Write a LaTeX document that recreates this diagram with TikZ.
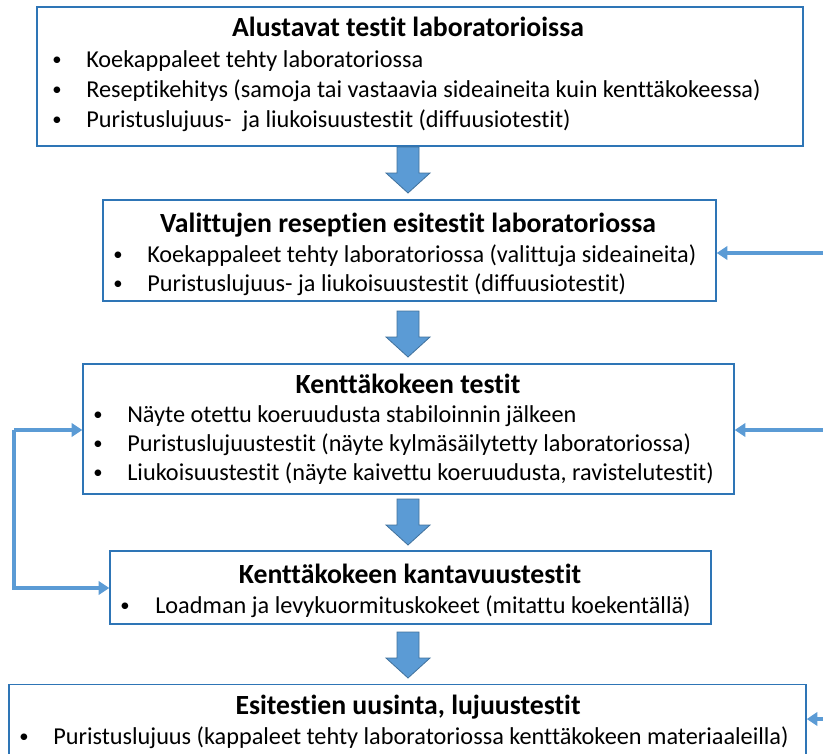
\documentclass[tikz,border=0pt]{standalone}
\usepackage{fontspec}
\setmainfont[Ligatures=NoCommon]{Carlito}
\usetikzlibrary{arrows.meta}
\definecolor{boxblue}{HTML}{2E75B6}
\definecolor{arrfill}{HTML}{5B9BD5}
\definecolor{arrline}{HTML}{41719C}
\tikzset{
  box/.style={draw=boxblue, line width=1.1pt, fill=white, inner sep=0pt},
  ttl/.style={font=\fontsize{20.8}{24}\selectfont\bfseries, anchor=base},
  itm/.style={font=\fontsize{18.2}{22}\selectfont, anchor=base west, inner sep=0pt},
  bul/.style={font=\fontsize{14}{16}\selectfont, anchor=base, inner sep=0pt},
  conn/.style={draw=arrfill, line width=2.8pt, -{Triangle[length=8pt,width=10pt]}},
}
\newcommand{\blockarr}[2]{%
  \filldraw[fill=arrfill, draw=arrline, line width=0.6pt]
    (#1-11,#2) -- (#1+11,#2) -- (#1+11,#2+26) -- (#1+22,#2+26) -- (#1,#2+46)
    -- (#1-22,#2+26) -- (#1-11,#2+26) -- cycle;}
\begin{document}
\begin{tikzpicture}[x=0.75pt,y=-0.75pt]
\useasboundingbox (0,0) rectangle (823,753);
% boxes
\node[box, minimum width=766*0.75pt, minimum height=139*0.75pt] (b1) at (420,76.5) {};
\node[box, minimum width=613*0.75pt, minimum height=101*0.75pt] (b2) at (409.5,250.5) {};
\node[box, minimum width=651*0.75pt, minimum height=130*0.75pt] (b3) at (408.5,429) {};
\node[box, minimum width=601*0.75pt, minimum height=73*0.75pt] (b4) at (410.5,587.5) {};
\node[box, minimum width=797*0.75pt, minimum height=80*0.75pt, anchor=north] (b5) at (407.5,684) {};
% box 1
\node[ttl] (t1) at (408,36) {Alustavat testit laboratorioissa};
\node[bul] (p11) at (57,65) {•};
\node[itm] (i11) at (86,67) {Koekappaleet tehty laboratoriossa};
\node[bul] (p12) at (57,95) {•};
\node[itm] (i12) at (86,97) {Reseptikehitys (samoja tai vastaavia sideaineita kuin kenttäkokeessa)};
\node[bul] (p13) at (57,125) {•};
\node[itm] (i13) at (86,127) {Puristuslujuus-\ \ ja liukoisuustestit (diffuusiotestit)};
% box 2
\node[ttl] (t2) at (408,232) {Valittujen reseptien esitestit laboratoriossa};
\node[bul] (p21) at (118,260) {•};
\node[itm] (i21) at (147,262) {Koekappaleet tehty laboratoriossa (valittuja sideaineita)};
\node[bul] (p22) at (118,289) {•};
\node[itm] (i22) at (147,291) {Puristuslujuus- ja liukoisuustestit (diffuusiotestit)};
% box 3
\node[ttl] (t3) at (408,393) {Kenttäkokeen testit};
\node[bul] (p31) at (98,420) {•};
\node[itm] (i31) at (127,422) {Näyte otettu koeruudusta stabiloinnin jälkeen};
\node[bul] (p32) at (98,449) {•};
\node[itm] (i32) at (127,451) {Puristuslujuustestit (näyte kylmäsäilytetty laboratoriossa)};
\node[bul] (p33) at (98,478) {•};
\node[itm] (i33) at (127,480) {Liukoisuustestit (näyte kaivettu koeruudusta, ravistelutestit)};
% box 4
\node[ttl] (t4) at (410,583) {Kenttäkokeen kantavuustestit};
\node[bul] (p41) at (125,611) {•};
\node[itm] (i41) at (155,613) {Loadman ja levykuormituskokeet (mitattu koekentällä)};
% box 5
\node[ttl] (t5) at (408,714) {Esitestien uusinta, lujuustestit};
\node[bul] (p51) at (24,742) {•};
\node[itm] (i51) at (53,744) {Puristuslujuus (kappaleet tehty laboratoriossa kenttäkokeen materiaaleilla)};
% block arrows
\blockarr{408}{147}
\blockarr{408}{311}
\blockarr{408}{499}
\blockarr{408}{632}
% side connectors
\coordinate (r2) at (823,253);
\coordinate (r3) at (823,430);
\coordinate (r5) at (823,719);
\draw[conn] (r2) -- (b2.east |- r2);
\draw[conn] (r3) -- (b3.east |- r3);
\draw[conn] (r5) -- (b5.east |- r5);
\coordinate (l1) at (14,430);
\coordinate (l2) at (14,588);
\draw[conn] (l1) -- (b3.west |- l1);
\draw[conn] (l1) -- (l2) -- (b4.west |- l2);
\end{tikzpicture}
\end{document}
